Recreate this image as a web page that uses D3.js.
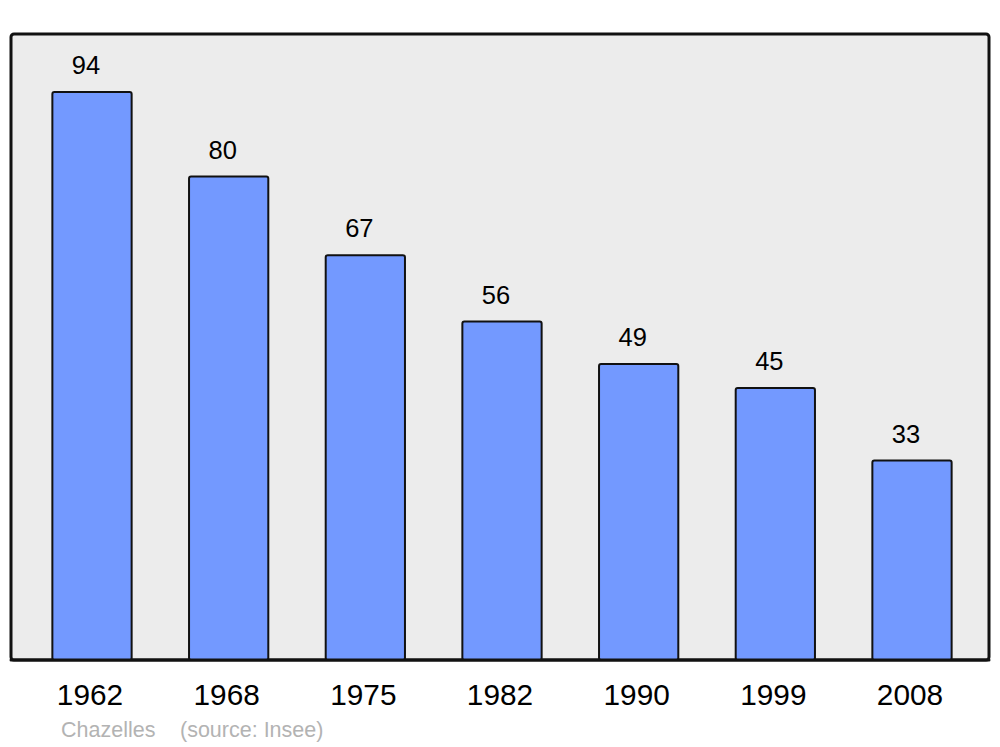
<!DOCTYPE html>
<html><head><meta charset="utf-8">
<script src="https://cdn.jsdelivr.net/npm/d3@7"></script>
<style>body{margin:0;background:#fff}svg{display:block;font-family:"Liberation Sans",Arial,sans-serif}</style>
</head><body><svg id="c" width="1000" height="747"></svg>
<script>
const years = ["1962","1968","1975","1982","1990","1999","2008"];
const values = [94, 80, 67, 56, 49, 45, 33];
const commune = "Chazelles";
const source = "(source: Insee)";

const svg = d3.select("#c");
const panel = {x0: 11, x1: 989, y0: 34, y1: 660};

svg.append("rect").attr("x", panel.x0).attr("y", panel.y0)
  .attr("width", panel.x1 - panel.x0).attr("height", panel.y1 - panel.y0)
  .attr("rx", 3).attr("fill", "#ececec").attr("stroke", "#111").attr("stroke-width", 3);

const x = d3.scaleBand().domain(years).range([23.67, 980.33]).paddingInner(0.42).paddingOuter(0.21);
const y = d3.scaleLinear().domain([0, 103.6]).range([panel.y1, panel.y0]);

svg.selectAll("rect.bar").data(values).join("rect").attr("class", "bar")
  .attr("x", (d, i) => x(years[i])).attr("y", d => y(d))
  .attr("width", x.bandwidth()).attr("height", d => y(0) - y(d))
  .attr("rx", 2).attr("fill", "#7399ff").attr("stroke", "#111").attr("stroke-width", 2);

svg.selectAll("text.val").data(values).join("text").attr("class", "val")
  .attr("x", (d, i) => x(years[i]) + x.bandwidth() / 2 - 6).attr("y", d => y(d) - 18)
  .attr("text-anchor", "middle").attr("font-size", 25.5).attr("fill", "#000").text(d => d);

svg.append("line").attr("x1", panel.x0).attr("x2", panel.x1).attr("y1", panel.y1).attr("y2", panel.y1)
  .attr("stroke", "#111").attr("stroke-width", 3).attr("stroke-linecap", "round");

const xAxis = d3.axisBottom(x).tickSize(0).tickPadding(0);
const g = svg.append("g").attr("transform", `translate(0,${panel.y1})`).call(xAxis);
g.select(".domain").remove();
g.selectAll("text").attr("font-size", 29.8).attr("fill", "#000")
  .attr("font-family", "Liberation Sans, Arial, sans-serif")
  .attr("dy", null).attr("y", 45).attr("dx", -2);

svg.append("text").attr("x", 61).attr("y", 737).attr("font-size", 21.5).attr("fill", "#b3b3b3").text(commune);
svg.append("text").attr("x", 180).attr("y", 737).attr("font-size", 21.5).attr("fill", "#b3b3b3").text(source);
</script></body></html>
